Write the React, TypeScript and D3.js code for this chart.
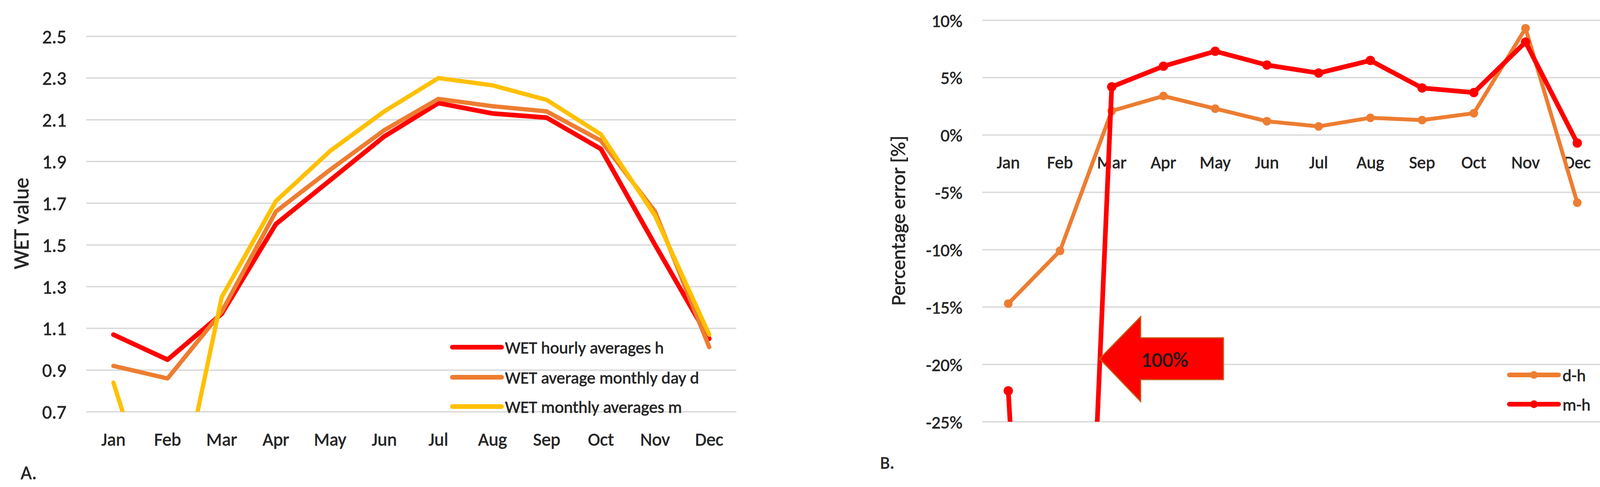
import React from 'react';
import * as d3 from 'd3';

// ---------- data ----------
const months = ['Jan', 'Feb', 'Mar', 'Apr', 'May', 'Jun', 'Jul', 'Aug', 'Sep', 'Oct', 'Nov', 'Dec'];

// Panel A: WET values
const wetHourly = [1.07, 0.95, 1.17, 1.6, 1.81, 2.02, 2.18, 2.13, 2.11, 1.96, 1.5, 1.05];
const wetDay = [0.92, 0.86, 1.18, 1.66, 1.86, 2.05, 2.2, 2.165, 2.14, 2.0, 1.66, 1.01];
const wetMonthly = [0.84, 0.02, 1.25, 1.71, 1.95, 2.14, 2.3, 2.265, 2.195, 2.03, 1.64, 1.07];
const yTicksA = [0.7, 0.9, 1.1, 1.3, 1.5, 1.7, 1.9, 2.1, 2.3, 2.5];
const legendA = ['WET hourly averages h', 'WET average monthly day d', 'WET monthly averages m'];

// Panel B: percentage error [%]
const errDH = [-14.7, -10.1, 2.1, 3.4, 2.3, 1.2, 0.75, 1.5, 1.3, 1.9, 9.3, -5.9];
const errMH = [-22.3, -100, 4.2, 6.0, 7.3, 6.1, 5.4, 6.5, 4.1, 3.7, 8.1, -0.7];
const yTicksB = [10, 5, 0, -5, -10, -15, -20, -25];
const legendB = ['d-h', 'm-h'];
const arrowLabel = '100%';

// ---------- style ----------
const FONT = 'Carlito, Calibri, Lato, sans-serif';
const RED = '#FF0000';
const ORANGE = '#ED7D31';
const YELLOW = '#FFC000';
const GRID = '#D9D9D9';
const TEXT = '#262626';

const W = 4119;
const H = 1247;

const txt = { fill: TEXT, stroke: TEXT, strokeWidth: 0.9 };

export default function App() {
  // Panel A scales
  const xA = d3.scalePoint<string>().domain(months).range([221, 1885]).padding(0.5);
  const yA = d3.scaleLinear().domain([0.7, 2.5]).range([1054.5, 93]);
  const lineA = d3
    .line<number>()
    .x((_, i) => xA(months[i]) as number)
    .y((d) => yA(d));

  // Panel B scales
  const xB = d3.scalePoint<string>().domain(months).range([2515, 4104]).padding(0.5);
  const yB = d3.scaleLinear().domain([-25, 10]).range([1080, 52]);
  const lineB = d3
    .line<number>()
    .x((_, i) => xB(months[i]) as number)
    .y((d) => yB(d));

  const seriesA = [
    { vals: wetHourly, color: RED, w: 12 },
    { vals: wetDay, color: ORANGE, w: 11 },
    { vals: wetMonthly, color: YELLOW, w: 11 },
  ];
  const seriesB = [
    { vals: errDH, color: ORANGE, w: 10, r: 11 },
    { vals: errMH, color: RED, w: 12, r: 12 },
  ];

  const legA = { x1: 1158, x2: 1284, tx: 1293, ys: [889, 966, 1041] };
  const legB = { x1: 3864, x2: 3990, tx: 4000, ys: [960, 1035] };

  // arrow annotation geometry
  const tipX = 2815;
  const tipY = yB(-19.5);
  const headX = 2920;
  const tailX = 3132;
  const headTop = 811;
  const headBot = 1028;
  const shaftTop = 865;
  const shaftBot = 972;
  const arrowPts = [
    [tipX, tipY],
    [headX, headTop],
    [headX, shaftTop],
    [tailX, shaftTop],
    [tailX, shaftBot],
    [headX, shaftBot],
    [headX, headBot],
  ]
    .map((p) => p.join(','))
    .join(' ');

  const [a0, a1] = xA.range();
  const [b0, b1] = xB.range();

  return (
    <div style={{ position: 'absolute', left: 0, top: 0, background: '#fff' }}>
      <svg width={W} height={H} viewBox={`0 0 ${W} ${H}`} style={{ display: 'block', fontFamily: FONT }}>
        <rect x={0} y={0} width={W} height={H} fill="#ffffff" />
        <defs>
          <clipPath id="clipA">
            <rect x={0} y={yA(2.5)} width={2100} height={yA(0.7) - yA(2.5)} />
          </clipPath>
          <clipPath id="clipB">
            <rect x={2400} y={yB(10) - 20} width={1719} height={yB(-25) - yB(10) + 20} />
          </clipPath>
        </defs>

        {/* ===== Panel A ===== */}
        {yTicksA.map((t) => (
          <g key={'ga' + t}>
            <line x1={a0} x2={a1} y1={yA(t)} y2={yA(t)} stroke={GRID} strokeWidth={3.5} />
            <text x={170} y={yA(t)} dy="0.36em" textAnchor="end" fontSize={49} {...txt}>
              {t.toFixed(1)}
            </text>
          </g>
        ))}
        {months.map((m) => (
          <text key={'ma' + m} x={xA(m)} y={1141} textAnchor="middle" fontSize={47} {...txt}>
            {m}
          </text>
        ))}
        <text transform={`translate(73,572) rotate(-90)`} textAnchor="middle" fontSize={55} {...txt}>
          WET value
        </text>
        <g clipPath="url(#clipA)">
          {seriesA.map((s, i) => (
            <path
              key={'la' + i}
              d={lineA(s.vals) as string}
              fill="none"
              stroke={s.color}
              strokeWidth={s.w}
              strokeLinejoin="round"
              strokeLinecap="round"
            />
          ))}
        </g>
        {legendA.map((label, i) => (
          <g key={'lga' + i}>
            <line
              x1={legA.x1}
              x2={legA.x2}
              y1={legA.ys[i]}
              y2={legA.ys[i]}
              stroke={seriesA[i].color}
              strokeWidth={12}
              strokeLinecap="round"
            />
            <text x={legA.tx} y={legA.ys[i]} dy="0.36em" fontSize={44} {...txt}>
              {label}
            </text>
          </g>
        ))}
        <text x={53} y={1227} fontSize={49} {...txt}>
          A.
        </text>

        {/* ===== Panel B ===== */}
        {yTicksB.map((t) => (
          <g key={'gb' + t}>
            <line x1={b0} x2={b1} y1={yB(t)} y2={yB(t)} stroke={GRID} strokeWidth={3.5} />
            <text x={2464} y={yB(t)} dy="0.36em" textAnchor="end" fontSize={46} {...txt}>
              {t + '%'}
            </text>
          </g>
        ))}
        {months.map((m) => (
          <text key={'mb' + m} x={xB(m)} y={431} textAnchor="middle" fontSize={45} {...txt}>
            {m}
          </text>
        ))}
        <text transform={`translate(2317,565) rotate(-90)`} textAnchor="middle" fontSize={52} {...txt}>
          Percentage error [%]
        </text>
        <g clipPath="url(#clipB)">
          {seriesB.map((s, i) => (
            <g key={'lb' + i}>
              <path
                d={lineB(s.vals) as string}
                fill="none"
                stroke={s.color}
                strokeWidth={s.w}
                strokeLinejoin="round"
              />
              {s.vals.map((v, j) => (
                <circle key={j} cx={xB(months[j])} cy={yB(v)} r={s.r} fill={s.color} />
              ))}
            </g>
          ))}
        </g>
        {/* arrow annotation */}
        <polygon points={arrowPts} fill={RED} stroke="#C55A11" strokeWidth={3} />
        <text x={2982} y={920} dy="0.36em" textAnchor="middle" fontSize={54} fill="#1a1a1a" stroke="#1a1a1a" strokeWidth={0.9}>
          {arrowLabel}
        </text>
        {legendB.map((label, i) => (
          <g key={'lgb' + i}>
            <line
              x1={legB.x1}
              x2={legB.x2}
              y1={legB.ys[i]}
              y2={legB.ys[i]}
              stroke={seriesB[i].color}
              strokeWidth={12}
              strokeLinecap="round"
            />
            <circle cx={(legB.x1 + legB.x2) / 2} cy={legB.ys[i]} r={10} fill={seriesB[i].color} />
            <text x={legB.tx} y={legB.ys[i]} dy="0.36em" fontSize={44} {...txt}>
              {label}
            </text>
          </g>
        ))}
        <text x={2253} y={1200} fontSize={46} {...txt}>
          B.
        </text>
      </svg>
    </div>
  );
}
